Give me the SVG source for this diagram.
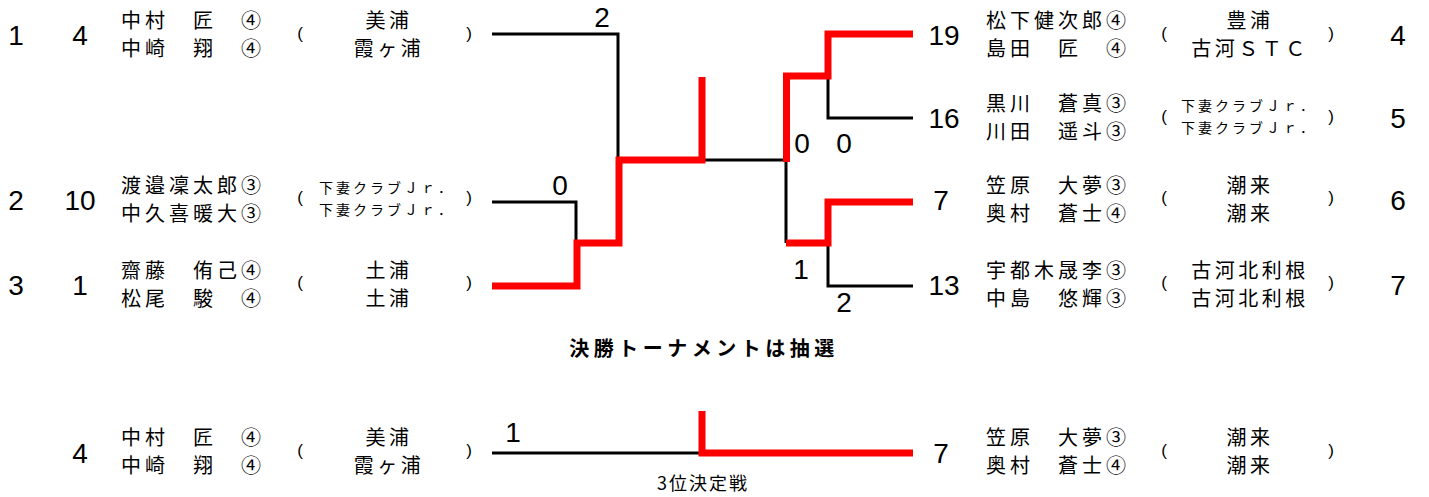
<svg xmlns="http://www.w3.org/2000/svg" width="1429" height="497" viewBox="0 0 1429 497">
<style>
.num{font-family:"Liberation Sans",Arial,sans-serif;font-size:28px;fill:#000;text-anchor:middle}
.sc{font-family:"Liberation Sans",Arial,sans-serif;font-size:28px;fill:#000;text-anchor:middle}
.nm{font-family:"Noto Sans CJK JP",sans-serif;font-size:20px;letter-spacing:4px;fill:#000}
.tm{font-family:"Noto Sans CJK JP",sans-serif;font-size:20px;letter-spacing:3.5px;fill:#000;text-anchor:middle}
.ts{font-family:"Noto Sans CJK JP",sans-serif;font-size:14px;letter-spacing:3px;fill:#000;text-anchor:middle}
.pr{font-family:"Liberation Sans",Arial,sans-serif;font-size:17px;fill:#000;text-anchor:middle}
.ttl{font-family:"Noto Sans CJK JP",sans-serif;font-size:20px;font-weight:bold;letter-spacing:4.5px;fill:#000;text-anchor:middle}
.sub{font-family:"Noto Sans CJK JP",sans-serif;font-size:18px;letter-spacing:2px;fill:#000;text-anchor:middle}
.bk{fill:none;stroke:#000;stroke-width:3}
.rd{fill:none;stroke:#ff0000;stroke-width:7}
</style>
<rect width="1429" height="497" fill="#fff"/>

<g id="connectors">
  <path class="bk" d="M492 34H618V160"/>
  <path class="bk" d="M492 202H576V243"/>
  <path class="bk" d="M702 160H786V243"/>
  <path class="bk" d="M828 76V118H913"/>
  <path class="bk" d="M828 243V286H913"/>
  <path class="bk" d="M492 453H702"/>
  <path class="rd" d="M492 286H577V243H619V160H702V77"/>
  <path class="rd" d="M786.5 162V76H828V34H913"/>
  <path class="rd" d="M786 243H828V202H913"/>
  <path class="rd" d="M702 411V453H913"/>
</g>

<g id="scores">
  <text class="sc" x="602" y="27">2</text>
  <text class="sc" x="560" y="195">0</text>
  <text class="sc" x="802" y="153">0</text>
  <text class="sc" x="844" y="153">0</text>
  <text class="sc" x="801" y="279">1</text>
  <text class="sc" x="844" y="312">2</text>
  <text class="sc" x="513" y="442">1</text>
</g>

<g id="entry-1">
  <text class="num" x="16" y="45">1</text>
  <text class="num" x="80" y="45">4</text>
  <text class="nm" x="121" y="27.5">中村　匠　④</text>
  <text class="nm" x="121" y="55.5">中崎　翔　④</text>
  <text class="pr" x="300" y="39">(</text>
  <text class="tm" x="389" y="27.5">美浦</text>
  <text class="tm" x="389" y="55.5">霞ヶ浦</text>
  <text class="pr" x="469" y="39">)</text>
</g>

<g id="entry-2">
  <text class="num" x="16" y="210">2</text>
  <text class="num" x="80" y="210">10</text>
  <text class="nm" x="121" y="192.5">渡邉凜太郎③</text>
  <text class="nm" x="121" y="220.5">中久喜暖大③</text>
  <text class="pr" x="300" y="203">(</text>
  <text class="ts" x="387" y="193.3">下妻クラブＪｒ．</text>
  <text class="ts" x="387" y="215.3">下妻クラブＪｒ．</text>
  <text class="pr" x="469" y="203">)</text>
</g>

<g id="entry-3">
  <text class="num" x="16" y="295">3</text>
  <text class="num" x="80" y="295">1</text>
  <text class="nm" x="121" y="277.5">齋藤　侑己④</text>
  <text class="nm" x="121" y="305.5">松尾　駿　④</text>
  <text class="pr" x="300" y="288">(</text>
  <text class="tm" x="389" y="277.5">土浦</text>
  <text class="tm" x="389" y="305.5">土浦</text>
  <text class="pr" x="469" y="288">)</text>
</g>

<g id="entry-4">
  <text class="num" x="944" y="45">19</text>
  <text class="nm" x="986" y="27.5">松下健次郎④</text>
  <text class="nm" x="986" y="55.5">島田　匠　④</text>
  <text class="pr" x="1164" y="39">(</text>
  <text class="tm" x="1250" y="27.5">豊浦</text>
  <text class="tm" x="1250" y="55.5">古河ＳＴＣ</text>
  <text class="pr" x="1331" y="39">)</text>
  <text class="num" x="1398" y="45">4</text>
</g>

<g id="entry-5">
  <text class="num" x="944" y="128">16</text>
  <text class="nm" x="986" y="110.5">黒川　蒼真③</text>
  <text class="nm" x="986" y="138.5">川田　遥斗③</text>
  <text class="pr" x="1164" y="122">(</text>
  <text class="ts" x="1249" y="111.3">下妻クラブＪｒ．</text>
  <text class="ts" x="1249" y="133.3">下妻クラブＪｒ．</text>
  <text class="pr" x="1331" y="122">)</text>
  <text class="num" x="1398" y="128">5</text>
</g>

<g id="entry-6">
  <text class="num" x="941" y="210">7</text>
  <text class="nm" x="986" y="192.5">笠原　大夢③</text>
  <text class="nm" x="986" y="220.5">奥村　蒼士④</text>
  <text class="pr" x="1164" y="203">(</text>
  <text class="tm" x="1250" y="192.5">潮来</text>
  <text class="tm" x="1250" y="220.5">潮来</text>
  <text class="pr" x="1331" y="203">)</text>
  <text class="num" x="1398" y="210">6</text>
</g>

<g id="entry-7">
  <text class="num" x="944" y="295">13</text>
  <text class="nm" x="986" y="277.5">宇都木晟李③</text>
  <text class="nm" x="986" y="305.5">中島　悠輝③</text>
  <text class="pr" x="1164" y="288">(</text>
  <text class="tm" x="1250" y="277.5">古河北利根</text>
  <text class="tm" x="1250" y="305.5">古河北利根</text>
  <text class="pr" x="1331" y="288">)</text>
  <text class="num" x="1398" y="295">7</text>
</g>

<g id="title">
  <text class="ttl" x="704" y="356">決勝トーナメントは抽選</text>
</g>

<g id="third-left">
  <text class="num" x="80" y="463">4</text>
  <text class="nm" x="121" y="444.5">中村　匠　④</text>
  <text class="nm" x="121" y="472.5">中崎　翔　④</text>
  <text class="pr" x="300" y="456">(</text>
  <text class="tm" x="389" y="444.5">美浦</text>
  <text class="tm" x="389" y="472.5">霞ヶ浦</text>
  <text class="pr" x="469" y="456">)</text>
</g>

<g id="third-right">
  <text class="num" x="941" y="463">7</text>
  <text class="nm" x="986" y="444.5">笠原　大夢③</text>
  <text class="nm" x="986" y="472.5">奥村　蒼士④</text>
  <text class="pr" x="1164" y="456">(</text>
  <text class="tm" x="1250" y="444.5">潮来</text>
  <text class="tm" x="1250" y="472.5">潮来</text>
  <text class="pr" x="1331" y="456">)</text>
</g>

<g id="third-label">
  <text class="sub" x="703" y="490">3位決定戦</text>
</g>
</svg>
